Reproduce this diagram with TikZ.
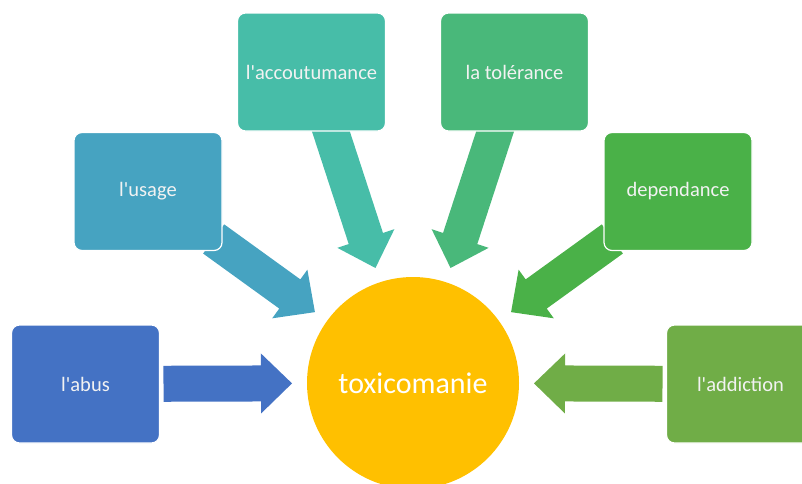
\documentclass[tikz,border=0pt]{standalone}
\usepackage{fontspec}
\setmainfont{Carlito}[Ligatures=TeXOff]
\usetikzlibrary{calc, backgrounds}
\definecolor{abuscol}{HTML}{4472C4}
\definecolor{usagecol}{HTML}{46A3C1}
\definecolor{accoutcol}{HTML}{47BDA8}
\definecolor{tolcol}{HTML}{49B87A}
\definecolor{depcol}{HTML}{4AB148}
\definecolor{addcol}{HTML}{70AD47}
\definecolor{toxcol}{HTML}{FFC000}
\tikzstyle{stage} = [rectangle, rounded corners=8pt, minimum width=148pt, minimum height=118pt, text centered, draw=white, line width=1.2pt, text=white!95!black, font=\fontsize{20.5}{24}\selectfont]
\tikzstyle{centre} = [circle, minimum size=212pt, fill=toxcol, text=white, font=\fontsize{30}{34}\selectfont]
% fat arrow from a box (#1) towards the circle (#2), start #3 from the box centre
\newcommand\fatarrow[4]{%
  \coordinate (s) at ($(#1)!#3!(#2)$);
  \coordinate (t) at ($(#2)!121pt!(#1)$);
  \coordinate (h) at ($(t)!31pt!(s)$);
  \fill[#4] ($(s)!18pt!90:(t)$) -- ($(h)!18pt!90:(t)$) -- ($(h)!30pt!90:(t)$) -- (t)
    -- ($(h)!30pt!-90:(t)$) -- ($(h)!18pt!-90:(t)$) -- ($(s)!18pt!-90:(t)$) -- cycle;}

\begin{document}
\begin{tikzpicture}[x=1pt, y=-1pt]
\clip (0,0) rectangle (802,483);

\node (toxico) [centre] at (413,383) {toxicomanie};

\node (abus) [stage, fill=abuscol] at (85.5,384) {l'abus};
\node (usage) [stage, fill=usagecol] at (148,191.5) {l'usage};
\node (accout) [stage, fill=accoutcol] at (311.5,72) {l'accoutumance};
\node (tol) [stage, fill=tolcol] at (514.5,72) {la tolérance};
\node (dep) [stage, fill=depcol] at (678,191.5) {dependance};
\node (addic) [stage, fill=addcol] at (740.5,384) {l'addiction};

\begin{scope}[on background layer]
\fatarrow{abus}{toxico}{78pt}{abuscol}
\fatarrow{usage}{toxico}{81pt}{usagecol}
\fatarrow{accout}{toxico}{56pt}{accoutcol}
\fatarrow{tol}{toxico}{56pt}{tolcol}
\fatarrow{dep}{toxico}{81pt}{depcol}
\fatarrow{addic}{toxico}{78pt}{addcol}
\end{scope}

\end{tikzpicture}
\end{document}
